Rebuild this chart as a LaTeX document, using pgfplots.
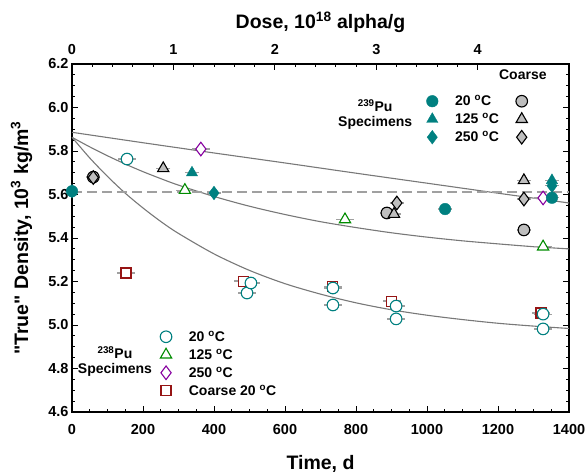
\documentclass[border=0pt]{standalone}
\usepackage{fontspec}
\setmainfont{Liberation Sans}[Ligatures=TeXOff]
\usepackage{pgfplots}
\pgfplotsset{compat=1.18}
\definecolor{tealc}{RGB}{0,128,128}
\definecolor{greenc}{RGB}{0,140,0}
\definecolor{purplec}{RGB}{135,0,160}
\definecolor{redc}{RGB}{150,20,20}
\definecolor{grayfill}{RGB}{190,190,190}
\definecolor{curvec}{RGB}{120,120,120}
\definecolor{errc}{RGB}{160,160,160}
\newcommand{\dg}{\textsuperscript{o}C}
\newcommand{\lfont}{\bfseries\fontsize{14}{15}\selectfont}

\pgfplotstableread{
t d
0 5.863
50 5.768
100 5.683
150 5.606
200 5.538
250 5.476
300 5.421
400 5.327
500 5.251
600 5.190
700 5.142
800 5.102
900 5.070
1000 5.045
1100 5.025
1200 5.008
1300 4.995
1400 4.984
}\lowcurve
\pgfplotstableread{
t d
0 5.863
50 5.819
100 5.778
150 5.740
200 5.705
250 5.673
300 5.643
400 5.591
500 5.546
600 5.508
700 5.475
800 5.448
900 5.424
1000 5.404
1100 5.387
1200 5.373
1300 5.360
1400 5.350
}\midcurve
\pgfplotstableread{
t d
0 5.886
200 5.838
400 5.791
600 5.745
800 5.698
1000 5.652
1200 5.606
1400 5.561
}\upcurve

\begin{document}
\begin{tikzpicture}
\pgfplotsset{
  base/.style={width=497pt,height=348pt,scale only axis,
    xmin=0,xmax=1400,ymin=4.6,ymax=6.2},
  mylegend/.style={hide axis, legend cell align=left,
    legend image code/.code={\draw[##1] plot coordinates {(0pt,0pt)};},
    legend style={draw=none,fill=none,inner sep=0pt,row sep=4pt,column sep=13pt,
      font=\lfont, nodes={inner xsep=4pt,inner ysep=1pt}}},
  eb/.style={error bars/.cd, x dir=both, x explicit,
    error bar style={errc,line width=1.2pt}, error mark=none},
  fteal/.style={only marks, draw=tealc, fill=tealc},
  coarse/.style={only marks, draw=black, fill=grayfill, line width=1.1pt},
  opn/.style={only marks, fill=white, line width=1.1pt, mark options={fill=white}},
}
\begin{axis}[base, name=main,
  axis line style={line width=1.1pt},
  xtick={0,200,400,600,800,1000,1200,1400}, minor x tick num=3,
  ytick={4.6,4.8,5.0,5.2,5.4,5.6,5.8,6.0,6.2}, minor y tick num=3,
  xtick pos=left, ytick pos=both,
  tick align=inside,
  major tick length=6pt, minor tick length=3.5pt,
  every tick/.style={black,line width=0.9pt},
  ticklabel style={font=\bfseries\fontsize{14.5}{16}\selectfont},
  xticklabel style={anchor=base, yshift=-22pt},
  /pgf/number format/assume math mode=true,
  /pgf/number format/1000 sep={},
  yticklabel style={/pgf/number format/.cd,fixed,fixed zerofill,precision=1},
  xlabel={Time, d},
  ylabel={"True" Density, 10\textsuperscript{3} kg/m\textsuperscript{3}},
  label style={font=\bfseries\fontsize{19.5}{22}\selectfont},
  xlabel style={at={(axis description cs:0.5,0)}, anchor=base, yshift=-57pt},
  ylabel style={at={(axis description cs:-0.0885,0.5)}, anchor=base},
  clip=false,
]
% fit curves
\addplot[curvec, line width=1.1pt, smooth] table {\lowcurve};
\addplot[curvec, line width=1.1pt, smooth] table {\midcurve};
\addplot[curvec, line width=1.1pt, smooth] table {\upcurve};
\addplot[errc, line width=1.3pt, dash pattern=on 10pt off 5pt] coordinates {(0,5.611) (1400,5.611)};
% 238Pu coarse 20 C
\addplot[opn, mark=square*, mark size=5pt, draw=redc, eb]
  coordinates {(152,5.239) +- (25,0) (482,5.202) +- (25,0) (735,5.178) +- (25,0) (901,5.110) +- (25,0) (1321,5.055) +- (25,0)};
% 238Pu 20 C
\addplot[opn, mark=*, mark size=5.8pt, draw=tealc, eb]
  coordinates {(155,5.763) +- (25,0) (493,5.147) +- (25,0) (504,5.193) +- (25,0) (735,5.170) +- (25,0) (735,5.092) +- (25,0) (913,5.087) +- (25,0) (913,5.028) +- (25,0) (1327,5.050) +- (25,0) (1327,4.982) +- (25,0)};
% 238Pu 125 C
\addplot[opn, mark=triangle*, mark size=6.5pt, draw=greenc, eb]
  coordinates {(318,5.620) +- (25,0) (769,5.485) +- (25,0) (1327,5.360) +- (25,0)};
% 238Pu 250 C
\addplot[opn, mark=diamond*, mark size=6.8pt, draw=purplec, eb]
  coordinates {(363,5.809) +- (25,0) (1327,5.584) +- (25,0)};
% 239Pu coarse
\addplot[coarse, mark=*, mark size=5.8pt, eb]
  coordinates {(60,5.680) +- (20,0) (887,5.515) +- (20,0) (1273,5.437) +- (20,0)};
\addplot[coarse, mark=triangle*, mark size=6.5pt, eb]
  coordinates {(257,5.720) +- (20,0) (907,5.510) +- (20,0) (1273,5.665) +- (20,0)};
\addplot[coarse, mark=diamond*, mark size=6.8pt, eb]
  coordinates {(60,5.678) +- (20,0) (915,5.561) +- (20,0) (1273,5.579) +- (20,0)};
% 239Pu fine
\addplot[fteal, mark=triangle*, mark size=6.5pt, eb]
  coordinates {(338,5.700) +- (20,0) (1352,5.665) +- (20,0)};
\addplot[fteal, mark=diamond*, mark size=6.8pt, eb]
  coordinates {(0,5.615) +- (20,0) (400,5.607) +- (20,0) (1352,5.640) +- (20,0)};
\addplot[fteal, mark=*, mark size=5.8pt, eb]
  coordinates {(0,5.615) +- (20,0) (1051,5.533) +- (20,0) (1352,5.585) +- (20,0)};
% texts
\node[font=\lfont] at (axis cs:1270,6.149) {Coarse};
\node[font=\lfont, align=center, inner sep=0pt] at (axis cs:854,5.966) {\textsuperscript{239}Pu\\Specimens};
\node[font=\lfont, align=center, inner sep=0pt] at (axis cs:121,4.832) {\textsuperscript{238}Pu\\Specimens};
\end{axis}

% top dose axis
\begin{axis}[base, xmin=0, xmax=4.9,
  axis x line*=top, axis y line=none,
  axis line style={line width=1.1pt},
  xtick={0,1,2,3,4}, minor x tick num=4,
  tick align=inside,
  major tick length=6pt, minor tick length=3.5pt,
  every tick/.style={black,line width=0.9pt},
  ticklabel style={font=\bfseries\fontsize{14.5}{16}\selectfont},
  xticklabel style={anchor=base, yshift=9.5pt},
  /pgf/number format/assume math mode=true,
  xlabel={Dose, 10\textsuperscript{18} alpha/g},
  label style={font=\bfseries\fontsize{19.5}{22}\selectfont},
  xlabel style={at={(axis description cs:0.5,1)}, anchor=base, yshift=35pt},
]
\addplot[draw=none] coordinates {(0,5)};
\end{axis}

% 239Pu legend
\begin{axis}[base, mylegend, legend columns=2,
  legend style={at={(axis cs:998,6.062)}, anchor=north west}]
\addlegendimage{fteal, mark=*, mark size=5.8pt}
\addlegendentry{20 \dg}
\addlegendimage{coarse, mark=*, mark size=5.8pt}
\addlegendentry{}
\addlegendimage{fteal, mark=triangle*, mark size=6.5pt}
\addlegendentry{125 \dg}
\addlegendimage{coarse, mark=triangle*, mark size=6.5pt}
\addlegendentry{}
\addlegendimage{fteal, mark=diamond*, mark size=6.8pt}
\addlegendentry{250 \dg}
\addlegendimage{coarse, mark=diamond*, mark size=6.8pt}
\addlegendentry{}
\end{axis}

% 238Pu legend
\begin{axis}[base, mylegend,
  legend style={at={(axis cs:248,4.979)}, anchor=north west}]
\addlegendimage{opn, mark=*, mark size=5.8pt, draw=tealc}
\addlegendentry{20 \dg}
\addlegendimage{opn, mark=triangle*, mark size=6.5pt, draw=greenc}
\addlegendentry{125 \dg}
\addlegendimage{opn, mark=diamond*, mark size=6.8pt, draw=purplec}
\addlegendentry{250 \dg}
\addlegendimage{opn, mark=square*, mark size=5pt, draw=redc}
\addlegendentry{Coarse 20 \dg}
\end{axis}

\pgfresetboundingbox
\path (main.south west) ++(-72pt,-62pt) rectangle ++(586pt,474pt);
\end{tikzpicture}
\end{document}
